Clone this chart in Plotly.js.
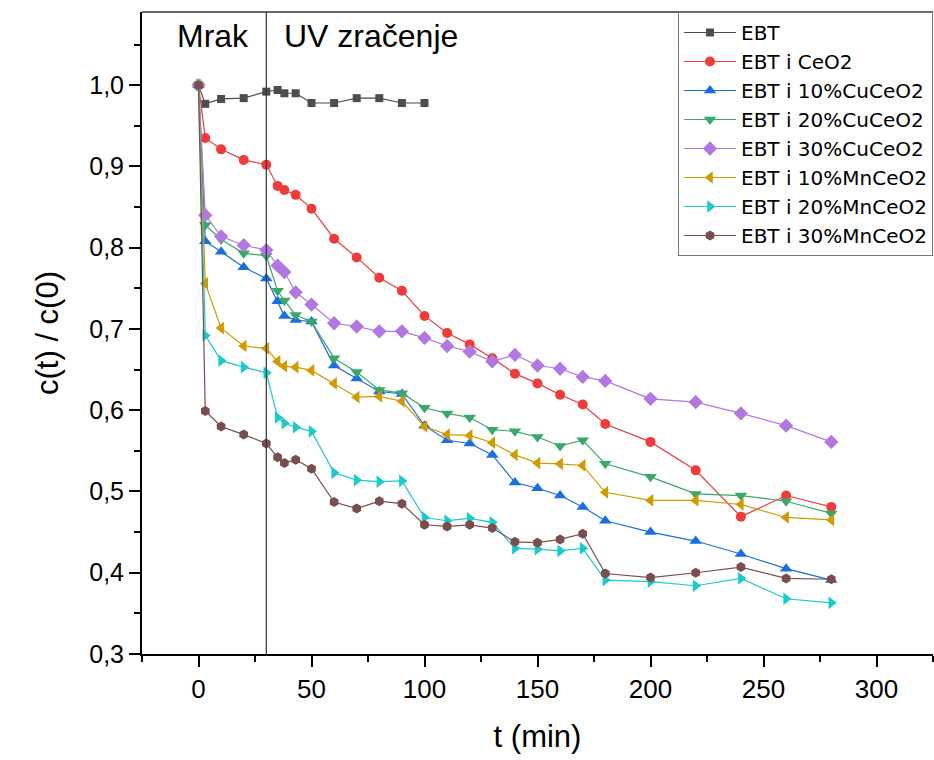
<!DOCTYPE html>
<html>
<head>
<meta charset="utf-8">
<script src="https://cdn.plot.ly/plotly-3.0.1.min.js"></script>
<style>html,body{margin:0;padding:0;background:#fff;}#chart{width:934px;height:760px;}</style>
</head>
<body>
<div id="chart"></div>
<script>
const tAll = [0,3,10,20,30,35,38,43,50,60,70,80,90,100,110,120,130,140,150,160,170,180,200,220,240,260,280];
const tEBT = [0,3,10,20,30,35,38,43,50,60,70,80,90,100];

const ebt  = [1.000,0.977,0.983,0.984,0.992,0.994,0.990,0.990,0.978,0.978,0.984,0.984,0.978,0.978];
const ceo2 = [1.000,0.935,0.921,0.908,0.902,0.876,0.871,0.865,0.848,0.811,0.788,0.763,0.747,0.716,0.695,0.681,0.664,0.645,0.633,0.619,0.607,0.583,0.561,0.526,0.469,0.495,0.481];
const cu10 = [1.000,0.808,0.795,0.776,0.762,0.734,0.716,0.711,0.709,0.655,0.639,0.623,0.620,0.581,0.563,0.559,0.545,0.511,0.504,0.495,0.481,0.464,0.450,0.439,0.423,0.405,0.391];
const cu20 = [1.000,0.828,0.810,0.793,0.790,0.747,0.735,0.717,0.709,0.664,0.647,0.625,0.621,0.603,0.596,0.591,0.576,0.574,0.567,0.556,0.563,0.534,0.518,0.497,0.495,0.488,0.473];
const cu30 = [1.000,0.840,0.814,0.803,0.797,0.778,0.770,0.745,0.730,0.707,0.703,0.697,0.697,0.689,0.679,0.672,0.660,0.668,0.655,0.651,0.641,0.636,0.614,0.610,0.596,0.581,0.561];
const mn10 = [1.000,0.756,0.701,0.679,0.676,0.660,0.654,0.653,0.649,0.633,0.616,0.617,0.611,0.580,0.570,0.569,0.560,0.545,0.535,0.534,0.532,0.499,0.489,0.489,0.484,0.468,0.465];
const mn20 = [1.000,0.692,0.661,0.653,0.646,0.591,0.584,0.579,0.574,0.523,0.514,0.512,0.513,0.468,0.464,0.467,0.462,0.430,0.429,0.427,0.430,0.391,0.389,0.384,0.393,0.368,0.363];
const mn30 = [1.000,0.599,0.580,0.570,0.559,0.542,0.535,0.539,0.528,0.487,0.479,0.488,0.485,0.459,0.457,0.459,0.455,0.438,0.437,0.441,0.448,0.399,0.394,0.400,0.407,0.393,0.392];

const seriesNames = ['EBT','EBT i CeO2','EBT i 10%CuCeO2','EBT i 20%CuCeO2','EBT i 30%CuCeO2','EBT i 10%MnCeO2','EBT i 20%MnCeO2','EBT i 30%MnCeO2'];
const xAxisTitle = 't (min)';
const yAxisTitle = 'c(t) / c(0)';
const labelDark = 'Mrak';
const labelUV = 'UV zračenje';

const colors  = ['#4d4d4d','#ef3b3b','#1a6fe0','#3aa86a','#b078e0','#d09a00','#1ccaca','#7a4e4e'];
const symbols = ['square','circle','triangle-up','triangle-down','diamond','triangle-left','triangle-right','hexagon'];
const sizes   = [8,10,11,11,11,11,11,10];
const xs = [tEBT,tAll,tAll,tAll,tAll,tAll,tAll,tAll];
const ys = [ebt,ceo2,cu10,cu20,cu30,mn10,mn20,mn30];

const traces = ys.map((y,i)=>({
  type:'scatter', mode:'lines+markers', name:seriesNames[i],
  x:xs[i], y:y,
  line:{color:colors[i], width:1.2},
  marker:{color:colors[i], symbol:symbols[i], size:sizes[i], line:{width:0}}
}));

const F = 'Liberation Sans, Arial, sans-serif';
const layout = {
  width:934, height:760,
  margin:{l:142, r:1, t:12, b:106},
  paper_bgcolor:'#fff', plot_bgcolor:'#fff',
  separators:', ',
  font:{family:F, color:'#000', size:20},
  showlegend:true,
  legend:{x:1, xanchor:'right', y:1, yanchor:'top', bgcolor:'#fff',
          bordercolor:'#777', borderwidth:1, font:{family:'DejaVu Sans, Liberation Sans, sans-serif', size:20, color:'#000'},
          tracegroupgap:0, itemwidth:52},
  xaxis:{range:[-25,325], tickmode:'linear', tick0:0, dtick:50,
         showgrid:false, zeroline:false, showline:true, linecolor:'#000', linewidth:2,
         ticks:'outside', ticklen:11, tickwidth:2, tickcolor:'#000',
         minor:{tick0:-25, dtick:50, ticks:'outside', ticklen:6, tickwidth:2, tickcolor:'#000'},
         tickfont:{family:F, size:26, color:'#000'},
         title:{text:xAxisTitle, font:{family:F, size:31, color:'#000'}, standoff:22}},
  yaxis:{range:[0.3,1.09], tickmode:'linear', tick0:0.3, dtick:0.1, tickformat:'.1f',
         showgrid:false, zeroline:false, showline:true, linecolor:'#000', linewidth:2,
         ticks:'outside', ticklen:11, tickwidth:2, tickcolor:'#000',
         minor:{tick0:0.35, dtick:0.1, ticks:'outside', ticklen:6, tickwidth:2, tickcolor:'#000'},
         tickfont:{family:F, size:25, color:'#000'},
         title:{text:yAxisTitle, font:{family:F, size:31, color:'#000'}, standoff:21}},
  shapes:[
    {type:'line', xref:'x', yref:'paper', x0:30, x1:30, y0:0, y1:1, line:{color:'#333', width:1.2}},
    {type:'line', xref:'paper', yref:'paper', x0:0, x1:1, y0:1, y1:1, line:{color:'#333', width:1.5}}
  ],
  annotations:[
    {xref:'x', yref:'y', x:6.2, y:1.061, text:labelDark, showarrow:false, xanchor:'center', yanchor:'middle', font:{family:F, size:32, color:'#000'}},
    {xref:'x', yref:'y', x:76.5, y:1.061, text:labelUV, showarrow:false, xanchor:'center', yanchor:'middle', font:{family:F, size:32, color:'#000'}}
  ]
};

Plotly.newPlot('chart', traces, layout, {displayModeBar:false, staticPlot:true});
</script>
</body>
</html>
